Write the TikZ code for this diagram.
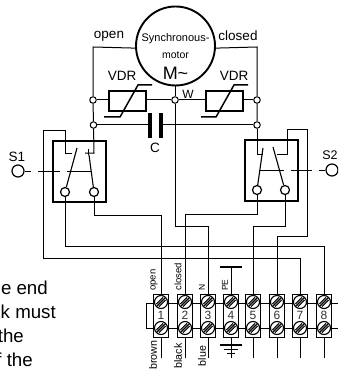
\documentclass[tikz,border=0pt]{standalone}
\usepackage{fontspec}
\setmainfont{Liberation Sans}
\begin{document}
\begin{tikzpicture}[x=1pt,y=-1pt,
  wire/.style={line width=1pt,black},
  junc/.style={circle,draw,line width=1pt,fill=white,minimum size=6.5pt,inner sep=0pt},
  contact/.style={circle,draw,line width=1.2pt,fill=white,minimum size=9pt,inner sep=0pt},
  handle/.style={circle,draw,line width=1.2pt,fill=white,minimum size=12pt,inner sep=0pt},
  vdrbox/.style={draw,line width=2pt,fill=white,minimum width=37pt,minimum height=20pt,inner sep=0pt},
  swbox/.style={draw,line width=2pt,minimum width=53pt,minimum height=61pt,inner sep=0pt},
  term/.style={draw,line width=1pt,fill=white,minimum width=15pt,minimum height=43pt,inner sep=0pt},
  screw/.style={circle,draw,line width=1.1pt,fill=white,minimum size=13pt,inner sep=0pt},
  lab/.style={inner sep=0pt,font=\fontsize{13.5}{14}\selectfont},
  tiny/.style={inner sep=0pt,rotate=90,font=\fontsize{9.5}{10}\selectfont},
  small/.style={inner sep=0pt,rotate=90,font=\fontsize{10.7}{11}\selectfont},
  cuttext/.style={anchor=east,inner sep=0pt,font=\fontsize{18.7}{19}\selectfont}]
\useasboundingbox (0,0) rectangle (338,374);
\clip (0,0) rectangle (338,374);
\fill[white] (0,0) rectangle (338,374);

% motor
\node[circle,draw,line width=1.9pt,minimum size=79pt,inner sep=0pt] (motor) at (175.5,46) {};
\node[inner sep=0pt,font=\fontsize{11}{11}\selectfont] at (175.5,39) {Synchronous-};
\node[inner sep=0pt,font=\fontsize{10.5}{11}\selectfont] at (175.5,55) {motor};
\node[inner sep=0pt,font=\fontsize{18}{18}\selectfont] at (175.5,73) {M\symbol{126}};
\node[lab] at (109,36) {open};
\node[lab] at (238,36) {closed};
\node[lab] at (122,76) {VDR};
\node[lab] at (234,76) {VDR};
\node[inner sep=0pt,font=\fontsize{12}{12}\selectfont] at (188,94) {W};
\node[lab] at (155,148) {C};
\node[lab] (s1t) at (17,157) {S1};
\node[lab,anchor=east,font=\fontsize{12.5}{13}\selectfont] (s2t) at (337.8,155) {S2};

% junctions
\node[junc] (jLa) at (93,100) {};
\node[junc] (jLb) at (93.5,125) {};
\node[junc] (jM) at (175,100) {};
\node[junc] (jRa) at (257,100) {};
\node[junc] (jRb) at (257,125) {};
\coordinate (mL) at (93,47);
\coordinate (mR) at (257,47);
\coordinate (mb) at (175,85.5);

% VDRs
\draw[wire] (jLa) -- (jM) -- (jRa);
\node[vdrbox] (vL) at (127.5,101) {};
\node[vdrbox] (vR) at (224.5,101) {};
\draw[line width=1.5pt] (104,117) -- (120,117) -- (138,85) -- (152,85);
\draw[line width=1.5pt] (201,117) -- (216,117) -- (234,85) -- (248,85);

% motor leads
\draw[wire] (motor.183) -- (mL) -- (jLa) -- (jLb);
\draw[wire] (motor.-3) -- (mR) -- (jRa) -- (jRb);

% capacitor
\coordinate (cL) at (150,125);
\coordinate (cR) at (161,125);
\draw[wire] (jLb) -- (cL);
\draw[wire] (cR) -- (jRb);
\draw[line width=3.2pt] (150,113) -- (150,138);
\draw[line width=3.2pt] (161,113) -- (161,138);

% switch S1
\node[swbox] (sw1) at (79.5,171.5) {};
\node[contact] (c1a) at (65,192) {};
\node[contact] (c1b) at (94,192) {};
\draw[wire] (jLb) -- (94,153) -- (85,153);
\draw[wire] (88,149) -- (88,155);
\draw[line width=1.1pt] (77,148) -- (c1a);
\draw[line width=1.1pt] (89,155) -- (c1b);
\draw[wire] (72,153) -- (65,153) -- (65,131) -- (43,131) -- (43,258) -- (300,258);

% switch S2
\node[swbox] (sw2) at (271,170.5) {};
\node[contact] (c2a) at (257,190) {};
\node[contact] (c2b) at (285,190) {};
\draw[wire] (jRb) -- (257,154) -- (263,154);
\draw[line width=1.1pt] (263,148) -- (c2a);
\draw[line width=1.1pt] (273,147) -- (c2b);
\draw[wire] (277,154) -- (287,154) -- (287,130) -- (307,130) -- (307,236) -- (277,236);

% operating rods
\node[handle] (h1) at (18,171) {};
\node[handle] (h2) at (332,170) {};
\draw[wire] (h1) -- (31,171);
\draw[wire] (38,171) -- (60,171);
\draw[wire] (67,171) -- (91,171);
\draw[wire] (260,170) -- (284,170);
\draw[wire] (291,170) -- (312,170);
\draw[wire] (319,170) -- (h2);

% terminals
\foreach \n/\x in {1/161,2/185,3/208,4/231,5/253,6/277,7/300,8/324}{
  \node[term] (t\n) at (\x,315.5) {};
  \coordinate (tt\n) at (\x,294);
  \coordinate (e\n) at (\x,358);
}
% rails
\coordinate (rail1) at (146,303);
\coordinate (rail2) at (146,328);
\draw[wire] (338,303) -- (rail1) -- (rail2) -- (338,328);
% wires to terminals
\draw[wire] (c1a) |- (324,246) -- (tt8);
\draw[wire] (c1b) |- (161,215) -- (tt1);
\draw[wire] (c2a) |- (185,214) -- (tt2);
\draw[wire] (mb) -- (jM) -- (175,226) -- (208,226) -- (tt3);
\draw[wire] (c2b) |- (253,226) -- (tt5);
\draw[wire] (277,236) -- (tt6);
\draw[wire] (300,258) -- (tt7);
% lower leads
\foreach \n in {1,2,3,5,6,7,8}{ \draw[wire] (t\n.south) -- (e\n); }
% PE
\coordinate (peb) at (231,267);
\draw[wire] (peb) -- (tt4);
\draw[line width=2pt] (220,267) -- (242,267);
\draw[wire] (t4.south) -- (231,358);
\draw[line width=2pt] (220,345) -- (242,345);
\draw[line width=1.8pt] (224,349.5) -- (238,349.5);
\draw[line width=1.6pt] (227,353.5) -- (235,353.5);
% screws and numbers
\foreach \n/\x in {1/161,2/185,3/208,4/231,5/253,6/277,7/300,8/324}{
  \node[inner sep=0pt,font=\fontsize{12}{12}\selectfont,black!80] at (\x,315.5) {\n};
  \foreach \y in {302,328}{
    \node[screw] (s\n\y) at (\x,\y) {};
    \draw[line width=1.1pt] (\x-4.6,\y+2) -- (\x+2,\y-4.6)
      (\x-4.4,\y+4.4) -- (\x+4.4,\y-4.4)
      (\x-2,\y+4.6) -- (\x+4.6,\y-2);
  }
}
% rotated labels
\node[tiny] at (154,280) {open};
\node[tiny] at (178,277) {closed};
\node[tiny,font=\fontsize{8.5}{9}\selectfont] at (202,287) {N};
\node[tiny,font=\fontsize{8.5}{9}\selectfont] at (225,285) {PE};
\node[small] at (153,355) {brown};
\node[small] at (178,356) {black};
\node[small] at (202,356) {blue};
% cut-off text
\node[cuttext] at (48,288) {e end};
\node[cuttext] at (56,312) {k must};
\node[cuttext] at (24,336) {the};
\node[cuttext] at (33,360) {f the};
\end{tikzpicture}
\end{document}
